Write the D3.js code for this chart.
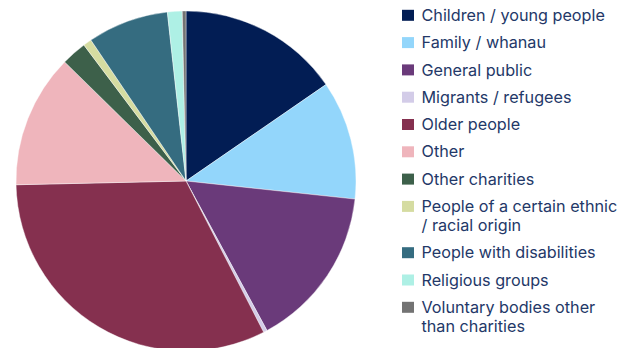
<!DOCTYPE html>
<html>
<head>
<meta charset="utf-8">
<script src="https://cdn.jsdelivr.net/npm/d3@7"></script>
<style>
  html, body { margin: 0; padding: 0; background: #fff; }
  svg { display: block; }
</style>
</head>
<body>
<svg id="chart" width="630" height="348"></svg>
<script>
// Beneficiary groups and their share of the total (%)
const categories = [
  "Children / young people",
  "Family / whanau",
  "General public",
  "Migrants / refugees",
  "Older people",
  "Other",
  "Other charities",
  "People of a certain ethnic\n/ racial origin",
  "People with disabilities",
  "Religious groups",
  "Voluntary bodies other\nthan charities"
];
const shares = [15.4, 11.3, 15.4, 0.35, 32.2, 12.7, 2.4, 0.8, 7.7, 1.4, 0.35];
const palette = [
  "#021d54", "#93d6fb", "#6a3a7a", "#d3cce8", "#85304f", "#efb5bc",
  "#3d604a", "#d5dca1", "#356c80", "#aef0e5", "#737373"
];

const svg = d3.select("#chart");
const cx = 186, cy = 181, r = 170;

const data = categories.map((c, i) => ({ label: c, value: shares[i], color: palette[i] }));

const pie = d3.pie().value(d => d.value).sort(null);
const arc = d3.arc().innerRadius(0).outerRadius(r);

svg.append("g")
  .attr("transform", `translate(${cx},${cy})`)
  .selectAll("path")
  .data(pie(data))
  .join("path")
  .attr("d", arc)
  .attr("fill", d => d.data.color)
  .attr("stroke", "#fff")
  .attr("stroke-width", 0.4);

// Legend: one swatch per group, long labels wrap onto a second line
const legend = svg.append("g").attr("transform", "translate(402,0)");
const lineH = 19, gap = 27.3;
let y = 15.3;
data.forEach(d => {
  const lines = d.label.split("\n");
  const g = legend.append("g");
  g.append("rect")
    .attr("x", 0).attr("y", y - 5.5)
    .attr("width", 12).attr("height", 11)
    .attr("fill", d.color);
  const t = g.append("text")
    .attr("y", y)
    .attr("font-family", "Inter, 'Noto Sans', sans-serif")
    .attr("font-size", 16.2)
    .attr("fill", "#233868");
  lines.forEach((ln, k) => {
    t.append("tspan").attr("x", 19.5).attr("dy", k === 0 ? "0.35em" : lineH).text(ln);
  });
  y += gap + (lines.length - 1) * lineH;
});
</script>
</body>
</html>
